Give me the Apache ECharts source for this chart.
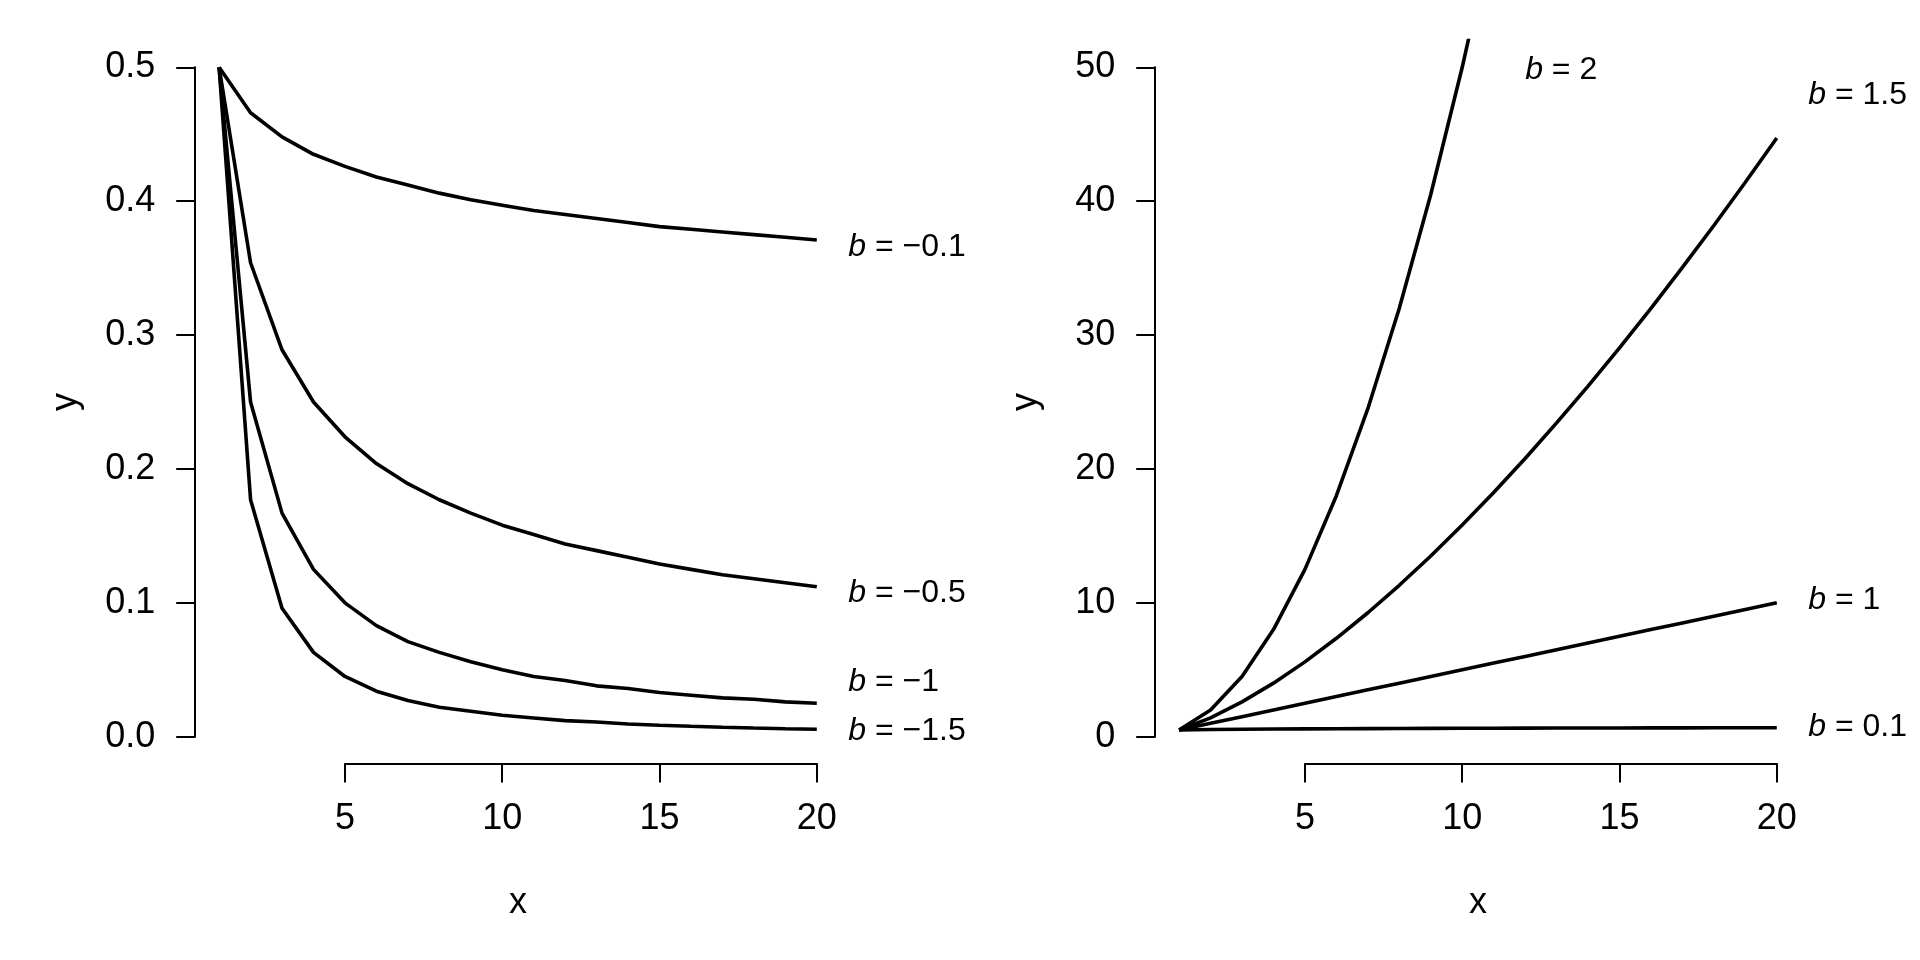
<!DOCTYPE html>
<html lang="en">
<head>
<meta charset="UTF-8">
<title>y = 0.5 x^b</title>
<script src="https://cdn.jsdelivr.net/npm/echarts@6/dist/echarts.min.js"></script>
<style>
    html, body { margin: 0; padding: 0; background: #fff; }
    #chart { width: 1920px; height: 960px; }
</style>
</head>
<body>
<div id="chart"></div>
<script>
    // x positions shared by every curve
    const xs = [1, 2, 3, 4, 5, 6, 7, 8, 9, 10, 11, 12, 13, 14, 15, 16, 17, 18, 19, 20];

    // left panel curves (b < 0)
    const yBm01 = [0.5, 0.466, 0.448, 0.435, 0.426, 0.418, 0.412, 0.406, 0.401, 0.397,
        0.393, 0.390, 0.387, 0.384, 0.381, 0.379, 0.377, 0.375, 0.373, 0.371];
    const yBm05 = [0.5, 0.354, 0.289, 0.25, 0.224, 0.204, 0.189, 0.177, 0.167, 0.158,
        0.151, 0.144, 0.139, 0.134, 0.129, 0.125, 0.121, 0.118, 0.115, 0.112];
    const yBm1 = [0.5, 0.25, 0.167, 0.125, 0.1, 0.083, 0.071, 0.063, 0.056, 0.05,
        0.045, 0.042, 0.038, 0.036, 0.033, 0.031, 0.029, 0.028, 0.026, 0.025];
    const yBm15 = [0.5, 0.177, 0.096, 0.063, 0.045, 0.034, 0.027, 0.022, 0.019, 0.016,
        0.014, 0.012, 0.011, 0.0095, 0.0086, 0.0078, 0.0071, 0.0065, 0.006, 0.0056];

    // right panel curves (b > 0)
    const yB01 = [0.5, 0.536, 0.558, 0.574, 0.587, 0.598, 0.607, 0.616, 0.623, 0.63,
        0.636, 0.641, 0.646, 0.651, 0.656, 0.66, 0.664, 0.668, 0.671, 0.675];
    const yB1 = [0.5, 1, 1.5, 2, 2.5, 3, 3.5, 4, 4.5, 5,
        5.5, 6, 6.5, 7, 7.5, 8, 8.5, 9, 9.5, 10];
    const yB15 = [0.5, 1.41, 2.6, 4, 5.59, 7.35, 9.26, 11.31, 13.5, 15.81,
        18.24, 20.78, 23.44, 26.19, 29.05, 32, 35.05, 38.18, 41.41, 44.72];
    const yB2 = [0.5, 2, 4.5, 8, 12.5, 18, 24.5, 32, 40.5, 50,
        60.5, 72, 84.5, 98, 112.5, 128, 144.5, 162, 180.5, 200];

    // curve labels
    const leftLabelText = ['\u22120.1', '\u22120.5', '\u22121', '\u22121.5'];
    const leftLabelX = [21, 21, 21, 21];
    const leftLabelY = [0.366, 0.107, 0.041, 0.004];
    const rightLabelText = ['2', '1.5', '1', '0.1'];
    const rightLabelX = [12, 21, 21, 21];
    const rightLabelY = [49.8, 47.9, 10.2, 0.75];

    // tick ranges
    const xTicks = [5, 20, 5];
    const leftYTicks = [0, 0.5, 0.1];
    const rightYTicks = [0, 50, 10];

    const FONT = '"Liberation Sans", Arial, sans-serif';

    // plot regions (pixels) and their data ranges, R style 4% padding
    const panels = [
        { left: 195.2, top: 40.5, width: 645.5, height: 723.0, x: [0.24, 20.76], y: [-0.02, 0.52] },
        { left: 1155.2, top: 40.5, width: 645.5, height: 723.0, x: [0.24, 20.76], y: [-2, 52] }
    ];

    function subRect(p, x0, x1, y0, y1) {
        const sx = p.width / (p.x[1] - p.x[0]);
        const sy = p.height / (p.y[1] - p.y[0]);
        return {
            left: p.left + (x0 - p.x[0]) * sx,
            width: (x1 - x0) * sx,
            top: p.top + (p.y[1] - y1) * sy,
            height: (y1 - y0) * sy
        };
    }

    const axisStyle = {
        axisLine: { show: true, onZero: false, lineStyle: { color: '#000', width: 2 } },
        axisTick: { show: true, inside: false, length: 19, lineStyle: { color: '#000', width: 2 } },
        splitLine: { show: false }
    };
    const nameStyle = { color: '#000', fontSize: 36, fontFamily: FONT };

    const grids = [];
    const xAxes = [];
    const yAxes = [];
    const series = [];

    function zip(ys) {
        return xs.map((x, i) => [x, ys[i]]);
    }

    function addPanel(p, curves, yTicks, yDigits, lblText, lblX, lblY) {
        const base = grids.length;
        // data grid, carries only the axis titles
        grids.push({ left: p.left, top: p.top, width: p.width, height: p.height });
        xAxes.push({
            gridIndex: base, type: 'value', min: p.x[0], max: p.x[1],
            axisLine: { show: false }, axisTick: { show: false }, axisLabel: { show: false },
            splitLine: { show: false },
            name: 'x', nameLocation: 'middle', nameGap: 122, nameTextStyle: nameStyle
        });
        yAxes.push({
            gridIndex: base, type: 'value', min: p.y[0], max: p.y[1],
            axisLine: { show: false }, axisTick: { show: false }, axisLabel: { show: false },
            splitLine: { show: false },
            name: 'y', nameLocation: 'middle', nameGap: 111, nameRotate: 90, nameTextStyle: nameStyle
        });

        // x axis, spanning only its ticks
        grids.push(subRect(p, xTicks[0], xTicks[1], p.y[0], p.y[1]));
        xAxes.push(Object.assign({
            gridIndex: base + 1, type: 'value', position: 'bottom',
            min: xTicks[0], max: xTicks[1], interval: xTicks[2],
            axisLabel: { color: '#000', fontSize: 36, fontFamily: FONT, margin: 38 }
        }, axisStyle));
        yAxes.push({ gridIndex: base + 1, type: 'value', show: false });

        // y axis, spanning only its ticks
        grids.push(subRect(p, p.x[0], p.x[1], yTicks[0], yTicks[1]));
        xAxes.push({ gridIndex: base + 2, type: 'value', show: false });
        yAxes.push(Object.assign({
            gridIndex: base + 2, type: 'value', position: 'left',
            min: yTicks[0], max: yTicks[1], interval: yTicks[2],
            axisLabel: {
                color: '#000', fontSize: 36, fontFamily: FONT, margin: 40,
                formatter: v => v.toFixed(yDigits)
            }
        }, axisStyle));

        curves.forEach(ys => {
            series.push({
                type: 'line',
                xAxisIndex: base, yAxisIndex: base,
                data: zip(ys),
                showSymbol: false,
                clip: true,
                lineStyle: { color: '#000', width: 3.6 },
                z: 3
            });
        });

        series.push({
            type: 'scatter',
            xAxisIndex: base, yAxisIndex: base,
            clip: false,
            symbolSize: 0,
            itemStyle: { opacity: 1 },
            data: lblText.map((t, i) => [lblX[i], lblY[i], t]),
            label: {
                show: true,
                position: 'right',
                distance: 0,
                opacity: 1,
                color: '#000',
                fontSize: 32,
                fontFamily: FONT,
                formatter: p => '{i|b} = ' + p.data[2],
                rich: {
                    i: { fontStyle: 'italic', fontSize: 32, fontFamily: FONT, color: '#000' }
                }
            }
        });
    }

    addPanel(panels[0], [yBm01, yBm05, yBm1, yBm15], leftYTicks, 1, leftLabelText, leftLabelX, leftLabelY);
    addPanel(panels[1], [yB01, yB1, yB15, yB2], rightYTicks, 0, rightLabelText, rightLabelX, rightLabelY);

    const chart = echarts.init(document.getElementById('chart'));
    chart.setOption({
        animation: false,
        backgroundColor: '#fff',
        textStyle: { fontFamily: FONT },
        grid: grids,
        xAxis: xAxes,
        yAxis: yAxes,
        series: series
    });
</script>
</body>
</html>
